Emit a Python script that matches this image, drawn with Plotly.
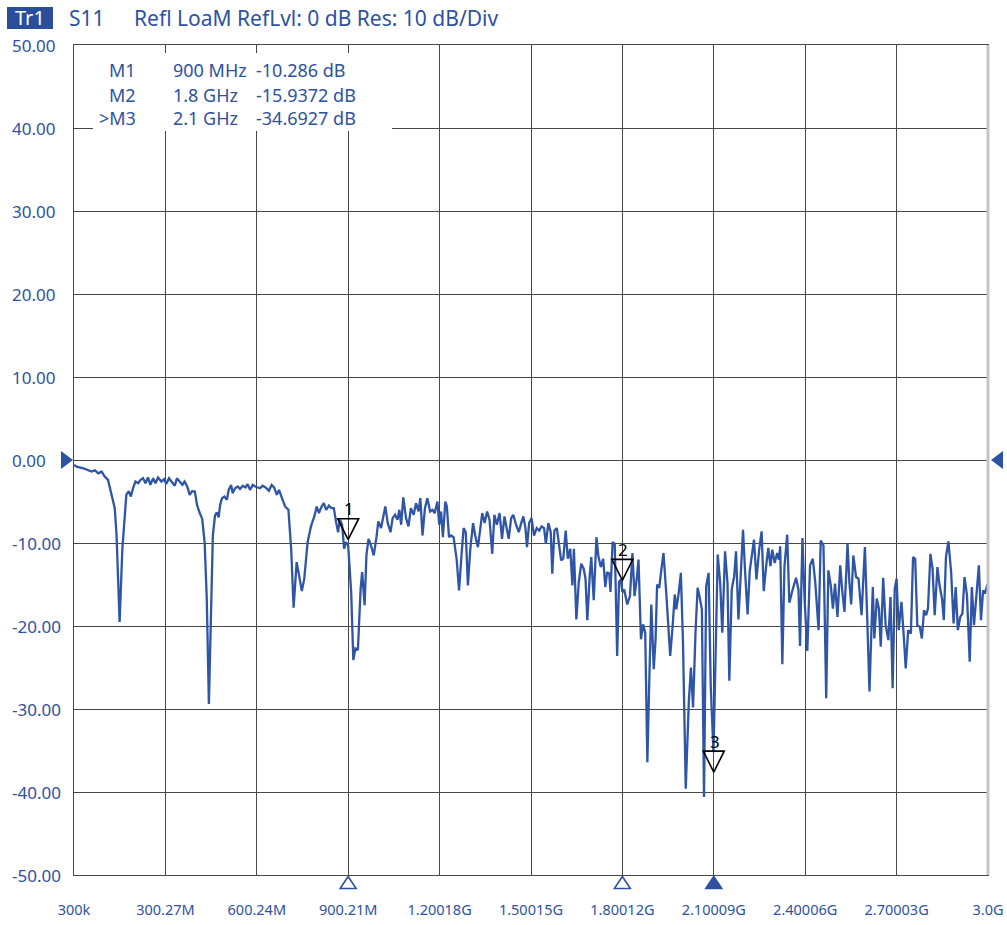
import plotly.graph_objects as go

# ---------------- data ----------------
freq_mhz = [
    0.3, 9, 31, 47, 58, 69, 80, 91, 101, 112, 123, 134, 140, 150, 159, 167, 172, 180, 187, 194,
    202, 211, 219, 227, 235, 243, 251, 260, 268, 276, 287, 296, 303, 312, 320, 331, 338, 347, 356, 363,
    372, 380, 388, 397, 404, 412, 421, 429, 436, 443, 449, 456, 463, 469, 475, 480, 486, 494, 502, 508,
    516, 521, 529, 538, 545, 554, 563, 570, 578, 587, 595, 603, 611, 619, 629, 640, 649, 657, 666, 673,
    682, 693, 704, 713, 721, 731, 739, 748, 756, 767, 778, 789, 797, 804, 813, 820, 828, 837, 845, 853,
    860, 867, 873, 880, 887, 893, 900, 910, 917, 924, 932, 941, 946, 954, 960, 967, 975, 984, 993, 999,
    1008, 1016, 1022, 1030, 1039, 1046, 1054, 1062, 1068, 1074, 1081, 1090, 1098, 1106, 1115, 1123, 1131, 1137, 1144, 1152,
    1160, 1169, 1177, 1184, 1193, 1199, 1205, 1211, 1219, 1224, 1231, 1238, 1246, 1256, 1264, 1272, 1279, 1286, 1293, 1301,
    1310, 1317, 1326, 1334, 1340, 1348, 1356, 1364, 1373, 1380, 1388, 1397, 1405, 1413, 1421, 1427, 1435, 1442, 1451, 1460,
    1468, 1475, 1482, 1487, 1494, 1502, 1510, 1519, 1527, 1535, 1543, 1549, 1557, 1565, 1570, 1577, 1585, 1593, 1599, 1606,
    1614, 1621, 1629, 1636, 1641, 1649, 1657, 1665, 1673, 1679, 1685, 1693, 1698, 1706, 1715, 1721, 1729, 1737, 1744, 1750,
    1757, 1761, 1768, 1775, 1783, 1789, 1795, 1800, 1806, 1816, 1825, 1833, 1840, 1847, 1853, 1861, 1868, 1875, 1882, 1889,
    1895, 1903, 1909, 1914, 1921, 1928, 1935, 1944, 1952, 1957, 1965, 1972, 1977, 1985, 1992, 1999, 2008, 2018, 2025, 2032,
    2040, 2047, 2053, 2061, 2068, 2075, 2083, 2090, 2099, 2107, 2113, 2121, 2128, 2137, 2145, 2151, 2159, 2167, 2173, 2181,
    2189, 2196, 2203, 2211, 2218, 2225, 2232, 2240, 2249, 2257, 2264, 2273, 2279, 2286, 2292, 2300, 2308, 2314, 2318, 2325,
    2332, 2341, 2348, 2359, 2370, 2378, 2383, 2391, 2398, 2407, 2416, 2425, 2433, 2444, 2451, 2460, 2469, 2476, 2484, 2491,
    2498, 2506, 2515, 2522, 2529, 2539, 2545, 2551, 2558, 2567, 2575, 2585, 2596, 2604, 2611, 2622, 2627, 2635, 2642, 2648,
    2656, 2664, 2673, 2680, 2687, 2694, 2700, 2707, 2716, 2724, 2730, 2738, 2747, 2754, 2761, 2768, 2776, 2783, 2790, 2797,
    2803, 2811, 2818, 2825, 2834, 2841, 2849, 2855, 2862, 2870, 2879, 2887, 2894, 2901, 2909, 2916, 2923, 2931, 2940, 2947,
    2954, 2962, 2970, 2977, 2984, 2990, 2998, 3000,
]
s11_db = [
    -0.6, -0.8, -1.0, -1.2, -1.4, -1.25, -1.6, -1.4, -2.0, -2.4, -4.2, -5.8, -9.1, -19.5, -10.7, -6.3, -4.2, -3.75, -4.4, -3.4,
    -2.6, -2.8, -2.4, -2.2, -2.8, -2.1, -3.0, -2.2, -2.8, -2.1, -2.6, -2.3, -2.9, -2.2, -2.6, -3.1, -2.2, -2.6, -3.0, -2.6,
    -3.2, -4.2, -3.75, -3.8, -5.4, -6.3, -7.1, -9.9, -16.7, -29.4, -19.6, -9.1, -6.7, -6.3, -6.9, -5.4, -4.6, -4.4, -4.8, -3.6,
    -3.0, -4.0, -3.4, -3.2, -3.5, -3.1, -3.3, -2.9, -3.6, -3.0, -3.2, -3.3, -3.4, -3.1, -3.3, -3.7, -3.0, -3.3, -4.2, -3.6,
    -4.6, -5.6, -6.0, -10.7, -17.8, -12.3, -13.9, -15.8, -14.3, -9.9, -8.0, -6.8, -5.6, -6.4, -5.6, -5.2, -6.0, -5.5, -5.8, -5.8,
    -7.4, -8.7, -7.2, -7.8, -10.7, -9.9, -10.3, -15.9, -24.1, -22.7, -22.9, -15.5, -13.5, -17.5, -11.5, -9.5, -10.3, -11.5, -9.3, -7.4,
    -8.2, -6.8, -5.6, -7.6, -8.7, -7.0, -6.6, -7.2, -6.0, -7.8, -4.5, -7.0, -8.0, -5.8, -6.6, -5.2, -6.2, -4.6, -9.1, -5.8,
    -4.6, -6.2, -6.0, -6.4, -5.0, -7.8, -6.2, -9.3, -5.0, -5.6, -9.3, -9.1, -9.3, -11.9, -15.7, -11.5, -8.2, -8.7, -15.1, -10.7,
    -7.6, -9.1, -10.5, -8.2, -6.4, -7.6, -6.2, -7.2, -11.3, -6.6, -7.8, -6.4, -9.5, -6.8, -8.2, -9.5, -7.0, -6.6, -7.8, -8.7,
    -7.6, -6.8, -8.2, -10.5, -7.6, -7.0, -9.1, -8.2, -8.5, -8.0, -8.2, -10.1, -7.6, -8.7, -13.7, -8.5, -8.2, -10.7, -12.1, -11.9,
    -8.5, -11.9, -10.7, -15.1, -10.7, -19.2, -14.7, -12.5, -13.1, -14.3, -19.3, -13.9, -11.7, -16.9, -9.3, -11.5, -12.9, -11.9, -15.3, -13.5,
    -13.7, -15.9, -9.9, -10.1, -23.6, -14.7, -14.4, -15.9, -15.6, -17.4, -16.4, -11.2, -16.4, -14.4, -12.0, -21.6, -19.8, -20.8, -36.4, -25.6,
    -17.4, -25.2, -21.6, -15.0, -15.4, -13.2, -11.2, -16.0, -20.4, -23.6, -20.0, -16.2, -18.0, -16.0, -13.6, -22.0, -39.6, -29.2, -25.0, -29.8,
    -20.8, -15.4, -16.4, -18.0, -40.6, -15.2, -13.6, -27.2, -35.2, -23.2, -11.4, -14.8, -20.8, -11.0, -14.8, -26.6, -15.6, -14.0, -11.0, -19.2,
    -13.2, -8.4, -13.6, -18.6, -13.4, -11.4, -9.6, -14.4, -10.8, -8.6, -15.8, -12.4, -10.6, -12.8, -10.8, -12.4, -11.2, -12.0, -10.4, -24.6,
    -12.8, -9.0, -17.2, -15.6, -14.2, -15.6, -22.4, -9.4, -16.7, -23.0, -12.7, -11.9, -14.7, -20.5, -9.7, -10.3, -28.7, -13.3, -15.1, -17.9,
    -14.9, -18.9, -12.7, -15.9, -18.3, -10.1, -14.7, -17.4, -11.5, -14.1, -14.3, -18.7, -10.5, -19.5, -27.9, -15.3, -21.5, -16.7, -17.9, -22.5,
    -14.2, -19.9, -21.7, -16.5, -27.5, -15.5, -14.3, -20.5, -17.1, -21.5, -25.1, -20.5, -20.9, -11.7, -11.9, -19.9, -20.1, -21.5, -18.1, -18.7,
    -17.9, -11.3, -13.1, -18.7, -12.9, -15.1, -16.7, -19.3, -11.7, -9.8, -13.5, -19.7, -15.3, -20.5, -18.9, -18.5, -14.1, -16.3, -24.3, -15.3,
    -19.9, -16.3, -12.7, -19.3, -15.7, -16.1, -15.0, -15.2,
]

x_tick_mhz = [0.3, 300.27, 600.24, 900.21, 1200.18, 1500.15, 1800.12, 2100.09, 2400.06, 2700.03, 3000.0]
x_tick_text = ["300k", "300.27M", "600.24M", "900.21M", "1.20018G", "1.50015G",
               "1.80012G", "2.10009G", "2.40006G", "2.70003G", "3.0G"]
y_ticks = [50, 40, 30, 20, 10, 0, -10, -20, -30, -40, -50]

marker_names = ["M1", "M2", ">M3"]
marker_freq_text = ["900 MHz", "1.8 GHz", "2.1 GHz"]
marker_value_text = ["-10.286 dB", "-15.9372 dB", "-34.6927 dB"]
marker_freq_mhz = [900, 1800, 2100]
marker_glyph_db = [-9.6, -14.5, -37.6]
marker_numbers = ["1", "2", "3"]
marker_active = [False, False, True]
ref_level_db = 0

title_trace = "Tr1"
title_param = "S11"
title_rest = "Refl LoaM RefLvl: 0 dB Res: 10 dB/Div"

# ---------------- styling / layout constants ----------------
W, H = 1007, 925
# plot area edges in page pixels
L, R, T, B = 74, 988, 45, 875
BLUE = "#2d52a2"
TRACE = "#2f55a6"
GRID = "#474747"
XMIN, XMAX = x_tick_mhz[0], x_tick_mhz[-1]
YMIN, YMAX = y_ticks[-1], y_ticks[0]


def px_x(p):
    return (p - L) / (R - L)


def px_y(p):
    return (B - p) / (B - T)


MAIN_FONT = "Noto Sans, Open Sans, sans-serif"

fig = go.Figure()

# measured trace
fig.add_trace(go.Scatter(
    x=freq_mhz, y=s11_db, mode="lines",
    line=dict(color=TRACE, width=2.3), hoverinfo="skip", showlegend=False,
))

# marker glyphs on the trace (tip at the point)
fig.add_trace(go.Scatter(
    x=marker_freq_mhz, y=marker_glyph_db, mode="markers",
    marker=dict(symbol="arrow-down-open", size=21, color="black", line=dict(width=1.6, color="black")),
    hoverinfo="skip", showlegend=False, cliponaxis=False,
))

shapes = []
# light right border of the grid
shapes.append(dict(type="line", xref="paper", yref="paper", x0=1, x1=1, y0=0, y1=1,
                   line=dict(color="#c4c4c4", width=3), layer="above"))
# marker position indicators below the x axis (pixel-sized triangles anchored at data x)
for f, active in zip(marker_freq_mhz, marker_active):
    shapes.append(dict(
        type="path", xref="x", yref="paper", xsizemode="pixel", ysizemode="pixel",
        xanchor=f, yanchor=0, path="M -8 -13.5 L 8 -13.5 L 0 -1.5 Z",
        fillcolor=BLUE if active else "white", line=dict(color=BLUE, width=1.6), layer="above",
    ))
# reference level indicators on both sides
shapes.append(dict(
    type="path", xref="paper", yref="y", xsizemode="pixel", ysizemode="pixel",
    xanchor=0, yanchor=ref_level_db, path="M -1 0 L -13 9 L -13 -9 Z",
    fillcolor=BLUE, line=dict(width=0), layer="above",
))
shapes.append(dict(
    type="path", xref="paper", yref="y", xsizemode="pixel", ysizemode="pixel",
    xanchor=1, yanchor=ref_level_db, path="M 3 0 L 15 9 L 15 -9 Z",
    fillcolor=BLUE, line=dict(width=0), layer="above",
))
# white box behind the marker table
shapes.append(dict(type="rect", xref="paper", yref="paper", x0=px_x(93), x1=px_x(392), y0=px_y(131), y1=px_y(53),
                   fillcolor="white", line=dict(width=0), layer="above"))
# Tr1 badge
shapes.append(dict(type="rect", xref="paper", yref="paper", x0=px_x(7), x1=px_x(53), y0=px_y(29), y1=px_y(7),
                   fillcolor="#2b4e9c", line=dict(width=0), layer="above"))

annotations = []
# marker numbers above glyphs
for f, v, n in zip(marker_freq_mhz, marker_glyph_db, marker_numbers):
    annotations.append(dict(x=f, y=v, xref="x", yref="y", text=n, showarrow=False,
                            yshift=31, xshift=1, font=dict(family=MAIN_FONT, size=17, color="black")))

# y tick labels (left aligned)
for v in y_ticks:
    annotations.append(dict(x=px_x(10), y=v, xref="paper", yref="y", text=f"{v:.2f}", showarrow=False,
                            xanchor="left", yanchor="middle", font=dict(family=MAIN_FONT, size=17, color=BLUE)))

# marker table
row_y = [70, 95, 118]
for yy, nm, ft, vt in zip(row_y, marker_names, marker_freq_text, marker_value_text):
    annotations.append(dict(x=px_x(138), y=px_y(yy), xref="paper", yref="paper", text=nm, showarrow=False,
                            xanchor="right", yanchor="middle", font=dict(family=MAIN_FONT, size=18, color=BLUE)))
    annotations.append(dict(x=px_x(171), y=px_y(yy), xref="paper", yref="paper", text=ft, showarrow=False,
                            xanchor="left", yanchor="middle", font=dict(family=MAIN_FONT, size=18, color=BLUE)))
    annotations.append(dict(x=px_x(254), y=px_y(yy), xref="paper", yref="paper", text=vt, showarrow=False,
                            xanchor="left", yanchor="middle", font=dict(family=MAIN_FONT, size=18, color=BLUE)))

# header
annotations.append(dict(x=px_x(30), y=px_y(18), xref="paper", yref="paper", text=title_trace, showarrow=False,
                        xanchor="center", yanchor="middle", font=dict(family=MAIN_FONT, size=20, color="white")))
annotations.append(dict(x=px_x(67), y=px_y(18), xref="paper", yref="paper", text=title_param, showarrow=False,
                        xanchor="left", yanchor="middle", font=dict(family=MAIN_FONT, size=21, color=BLUE)))
annotations.append(dict(x=px_x(132), y=px_y(18), xref="paper", yref="paper", text=title_rest, showarrow=False,
                        xanchor="left", yanchor="middle", font=dict(family=MAIN_FONT, size=21, color=BLUE)))

fig.update_layout(
    width=W, height=H,
    margin=dict(l=L, r=W - R, t=T, b=H - B, pad=0, autoexpand=False),
    paper_bgcolor="white", plot_bgcolor="white",
    showlegend=False,
    annotations=annotations,
    shapes=shapes,
    xaxis=dict(
        range=[XMIN, XMAX], tickmode="array", tickvals=x_tick_mhz, ticktext=x_tick_text,
        showgrid=True, gridcolor=GRID, gridwidth=1, zeroline=False,
        showline=True, linecolor=GRID, linewidth=1, mirror=True, ticks="",
        ticklabelstandoff=22, automargin=False,
        tickfont=dict(family=MAIN_FONT, size=14.5, color=BLUE),
        fixedrange=True,
    ),
    yaxis=dict(
        range=[YMIN, YMAX], tickmode="array", tickvals=y_ticks, showticklabels=False,
        showgrid=True, gridcolor=GRID, gridwidth=1, zeroline=False,
        showline=True, linecolor=GRID, linewidth=1, mirror=True, ticks="",
        automargin=False, fixedrange=True,
    ),
)

# remove the browser's default page margin so the figure fills the 1007x925 window exactly
fig.write_html(
    "out.html",
    config={"displayModeBar": False},
    post_script="document.body.style.margin='0px';document.body.style.overflow='hidden';",
)
